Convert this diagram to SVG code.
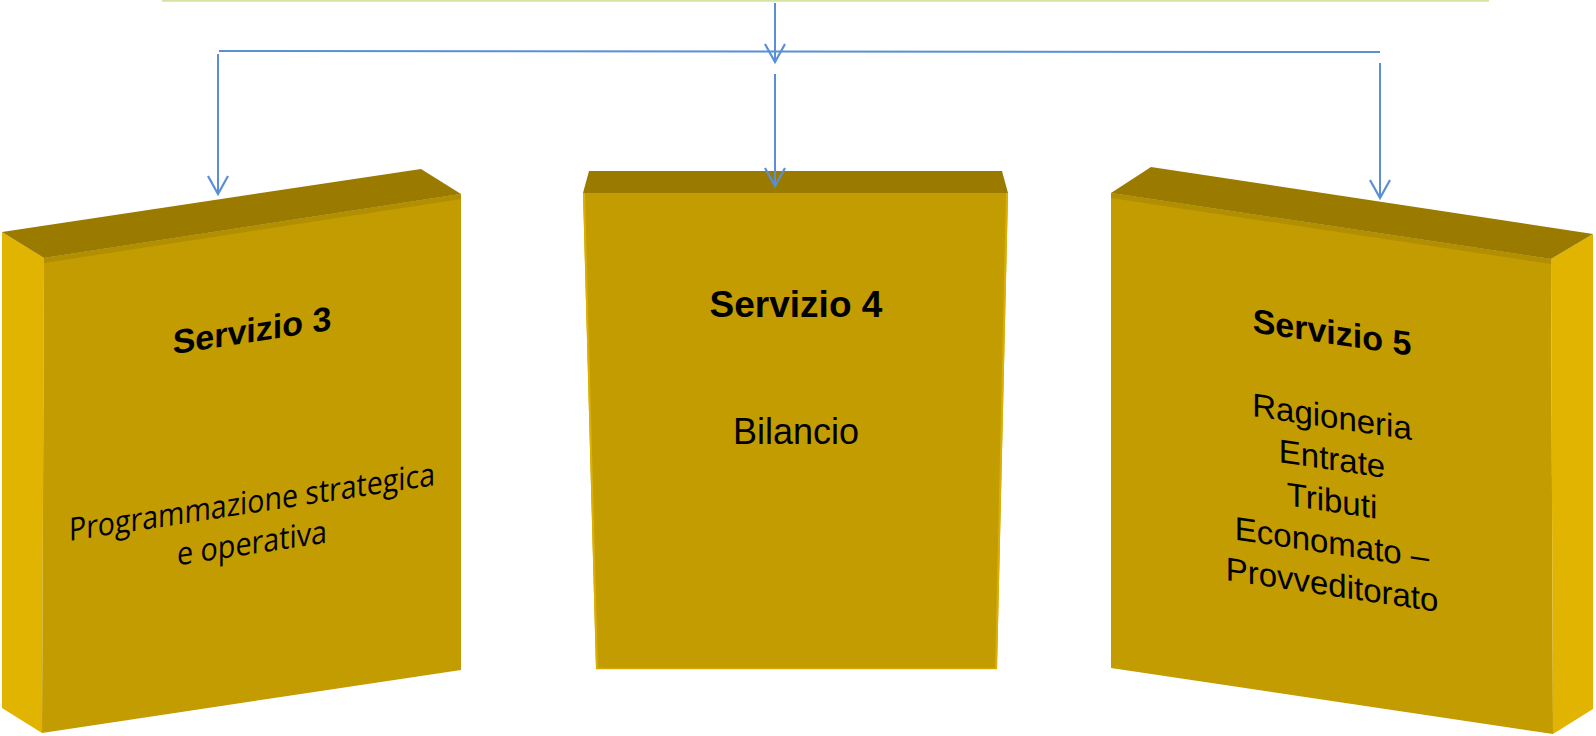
<svg xmlns="http://www.w3.org/2000/svg" width="1596" height="736" viewBox="0 0 1596 736">
  <defs>
    <style>
      .top { fill: #9a7b00; }
      .front { fill: #c29c00; }
      .band { fill: #b28f00; }
      .side { fill: #e0b400; }
      .conn { fill: none; stroke: #5a8ed6; stroke-width: 2; }
      .green { fill: none; stroke: #d3e3a3; stroke-width: 2; }
      .title { font-family: "Liberation Sans", Arial, sans-serif; font-weight: bold; fill: #000; text-anchor: middle; }
      .body { font-family: "Liberation Sans", Arial, sans-serif; fill: #000; text-anchor: middle; }
      .cal { font-family: "Open Sans", "Liberation Sans", sans-serif; fill: #000; text-anchor: middle; }
    </style>
    <marker id="arrow" markerUnits="userSpaceOnUse" markerWidth="30" markerHeight="30" refX="0" refY="0" orient="auto" overflow="visible">
      <path d="M -18 -10 L 0 0 L -18 10" fill="none" stroke="#5a8ed6" stroke-width="2.2"/>
    </marker>
  </defs>

  <rect x="0" y="0" width="1596" height="736" fill="#ffffff"/>

  <g id="servizio3">
    <polygon class="side" points="2,232 44,258 42,733 2,708"/>
    <polygon class="front" points="44,258 461,194 461,670 42,733"/>
    <polygon class="band" points="44,258 461,194 461,199 44,263"/>
    <polygon class="top" points="2,232 421,169 461,194 44,258"/>
    <g transform="translate(252,0) skewY(-8.7)">
      <text class="title" x="0" y="342" font-size="34">Servizio 3</text>
      <text class="cal" x="0" y="513" font-size="32" textLength="366" lengthAdjust="spacingAndGlyphs">Programmazione strategica</text>
      <text class="cal" x="0" y="554" font-size="32" textLength="150" lengthAdjust="spacingAndGlyphs">e operativa</text>
    </g>
  </g>

  <g id="servizio4">
    <polygon class="front" points="583,193 1008,193 997,669 596,669"/>
    <line x1="584" y1="193" x2="597" y2="669" stroke="#dcb000" stroke-width="2"/>
    <line x1="1007" y1="193" x2="996" y2="669" stroke="#dcb000" stroke-width="2"/>
    <line x1="596" y1="668.5" x2="997" y2="668.5" stroke="#d4aa00" stroke-width="1.5"/>
    <polygon class="top" points="583,193 589,171 1002,171 1008,193"/>
    <text class="title" x="796" y="317" font-size="37">Servizio 4</text>
    <text class="body" x="796" y="444" font-size="36">Bilancio</text>
  </g>

  <g id="servizio5">
    <polygon class="front" points="1111,193 1551,259 1553,734 1111,668"/>
    <polygon class="band" points="1111,193 1551,259 1551,264 1111,198"/>
    <polygon class="side" points="1551,259 1593,234 1593,709 1553,734"/>
    <polygon class="top" points="1111,193 1151,167 1593,234 1551,259"/>
    <g transform="translate(1332,0) skewY(8.5)">
      <text class="title" x="0" y="344" font-size="34">Servizio 5</text>
      <text class="body" x="0" y="428" font-size="33">Ragioneria</text>
      <text class="body" x="0" y="470" font-size="33">Entrate</text>
      <text class="body" x="0" y="512" font-size="33">Tributi</text>
      <text class="body" x="0" y="554" font-size="33">Economato –</text>
      <text class="body" x="0" y="596" font-size="33">Provveditorato</text>
    </g>
  </g>

  <g id="connectors">
    <path class="green" d="M162 0.8 H1489"/>
    <path class="conn" d="M775 3 V62" marker-end="url(#arrow)"/>
    <path class="conn" d="M219 51 L1380 52"/>
    <path class="conn" d="M218 54 V194" marker-end="url(#arrow)"/>
    <path class="conn" d="M775 74 V186" marker-end="url(#arrow)"/>
    <path class="conn" d="M1380 63 V198" marker-end="url(#arrow)"/>
  </g>
</svg>
